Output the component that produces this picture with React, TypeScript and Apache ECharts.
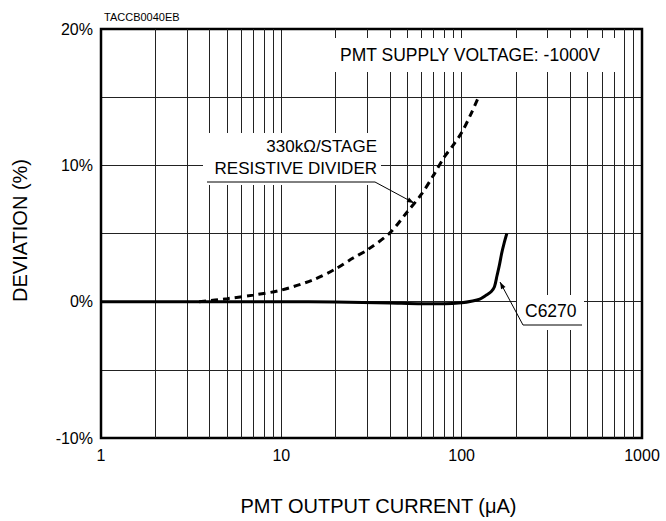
import React, { useEffect, useRef } from "react";
import * as echarts from "echarts";

// PMT output current (µA) vs deviation (%)
const dividerX = [3.5, 5, 7, 10, 15, 20, 25, 30, 40, 50, 60, 70, 80, 90, 100, 112, 124];
const dividerY = [0, 0.22, 0.48, 0.85, 1.6, 2.4, 3.2, 3.8, 5.05, 6.6, 7.9, 9.3, 10.6, 11.5, 12.4, 13.7, 15.0];

const c6270X = [1, 5, 10, 20, 40, 60, 80, 100, 115, 126, 137, 146, 152, 157, 162, 167, 172, 178];
const c6270Y = [0, 0, 0, -0.03, -0.1, -0.15, -0.15, -0.08, 0.05, 0.19, 0.48, 0.75, 1.1, 1.9, 2.7, 3.6, 4.3, 5.0];

const minorGridX = [2, 3, 4, 5, 6, 7, 8, 9, 20, 30, 40, 50, 60, 70, 80, 90, 200, 300, 400, 500, 600, 700, 800, 900];
const yLabeled = [-10, 0, 10, 20];

const FONT = "'Liberation Sans', Arial, Helvetica, sans-serif";

function arrowHead(x0: number, y0: number, x1: number, y1: number, len = 7, half = 2.5) {
  const dx = x1 - x0;
  const dy = y1 - y0;
  const l = Math.sqrt(dx * dx + dy * dy);
  const ux = dx / l;
  const uy = dy / l;
  const bx = x1 - ux * len;
  const by = y1 - uy * len;
  return [
    [x1, y1],
    [bx - uy * half, by + ux * half],
    [bx + uy * half, by - ux * half],
  ];
}

export default function App() {
  const ref = useRef<HTMLDivElement>(null);
  useEffect(() => {
    if (!ref.current) return;
    const chart = echarts.init(ref.current, undefined, { renderer: "svg" });
    chart.setOption({
      animation: false,
      backgroundColor: "#fff",
      textStyle: { fontFamily: FONT },
      grid: {
        left: 101,
        top: 29,
        right: 24,
        bottom: 76,
        show: true,
        borderColor: "#000",
        borderWidth: 2.5,
        backgroundColor: "transparent",
        z: 3,
      },
      xAxis: {
        type: "log",
        logBase: 10,
        min: 1,
        max: 1000,
        name: "PMT OUTPUT CURRENT (μA)",
        nameLocation: "middle",
        nameGap: 58,
        nameTextStyle: { fontSize: 20, color: "#000", fontFamily: FONT, padding: [0, 0, 0, 14] },
        axisLine: { show: false },
        axisTick: { show: false },
        axisLabel: {
          fontSize: 16,
          color: "#000",
          margin: 9,
          fontFamily: FONT,
          formatter: (v: number) => String(Math.round(v)),
        },
        splitLine: { show: true, lineStyle: { color: "#222", width: 1 } },
      },
      yAxis: {
        type: "value",
        min: -10,
        max: 20,
        interval: 5,
        name: "DEVIATION (%)",
        nameLocation: "middle",
        nameRotate: 90,
        nameGap: 71,
        nameTextStyle: { fontSize: 20, color: "#000", fontFamily: FONT, padding: [0, 0, 0, 6] },
        axisLine: { show: false },
        axisTick: { show: false },
        axisLabel: {
          fontSize: 16,
          color: "#000",
          margin: 8,
          fontFamily: FONT,
          formatter: (v: number) => (yLabeled.indexOf(v) >= 0 ? v + "%" : ""),
        },
        splitLine: { show: true, lineStyle: { color: "#222", width: 1 } },
      },
      series: [
        {
          type: "line",
          data: [],
          z: 1,
          silent: true,
          markLine: {
            silent: true,
            symbol: ["none", "none"],
            label: { show: false },
            lineStyle: { color: "#222", width: 1, type: "solid" },
            data: minorGridX.map((v) => ({ xAxis: v })),
          },
        },
        {
          type: "line",
          name: "330kΩ/STAGE RESISTIVE DIVIDER",
          data: dividerX.map((x, i) => [x, dividerY[i]]),
          smooth: 0.3,
          showSymbol: false,
          z: 5,
          lineStyle: { color: "#000", width: 3, type: [7, 5] },
        },
        {
          type: "line",
          name: "C6270",
          data: c6270X.map((x, i) => [x, c6270Y[i]]),
          smooth: 0.3,
          showSymbol: false,
          z: 6,
          lineStyle: { color: "#000", width: 3 },
        },
      ],
      graphic: [
        {
          type: "text",
          x: 104,
          y: 17,
          z: 10,
          style: { text: "TACCB0040EB", font: `11px ${FONT}`, fill: "#000", verticalAlign: "middle" },
        },
        {
          type: "text",
          x: 470,
          y: 55,
          z: 10,
          style: {
            text: "PMT SUPPLY VOLTAGE: -1000V",
            font: `17.5px ${FONT}`,
            fill: "#000",
            align: "center",
            verticalAlign: "middle",
            backgroundColor: "#fff",
            padding: [8, 15],
          },
        },
        { type: "rect", z: 10, shape: { x: 203, y: 133, width: 178, height: 52 }, style: { fill: "#fff" } },
        {
          type: "text",
          x: 377,
          y: 146,
          z: 11,
          style: { text: "330kΩ/STAGE", font: `17px ${FONT}`, fill: "#000", align: "right", verticalAlign: "middle" },
        },
        {
          type: "text",
          x: 377,
          y: 168,
          z: 11,
          style: { text: "RESISTIVE DIVIDER", font: `17px ${FONT}`, fill: "#000", align: "right", verticalAlign: "middle" },
        },
        { type: "line", z: 11, shape: { x1: 207, y1: 182, x2: 375, y2: 182 }, style: { stroke: "#000", lineWidth: 1 } },
        { type: "line", z: 11, shape: { x1: 375, y1: 182, x2: 414, y2: 203 }, style: { stroke: "#000", lineWidth: 1 } },
        { type: "polygon", z: 11, shape: { points: arrowHead(375, 182, 414, 203) }, style: { fill: "#000" } },
        { type: "rect", z: 10, shape: { x: 517, y: 295, width: 67, height: 35 }, style: { fill: "#fff" } },
        {
          type: "text",
          x: 525,
          y: 311,
          z: 11,
          style: { text: "C6270", font: `17.5px ${FONT}`, fill: "#000", align: "left", verticalAlign: "middle" },
        },
        { type: "line", z: 11, shape: { x1: 523, y1: 325, x2: 582, y2: 325 }, style: { stroke: "#000", lineWidth: 1 } },
        { type: "line", z: 11, shape: { x1: 523, y1: 325, x2: 500, y2: 282 }, style: { stroke: "#000", lineWidth: 1 } },
        { type: "polygon", z: 11, shape: { points: arrowHead(523, 325, 500, 282) }, style: { fill: "#000" } },
      ],
    });
    return () => chart.dispose();
  }, []);
  return <div ref={ref} style={{ width: 666, height: 521, position: "absolute", left: 0, top: 0 }} />;
}
